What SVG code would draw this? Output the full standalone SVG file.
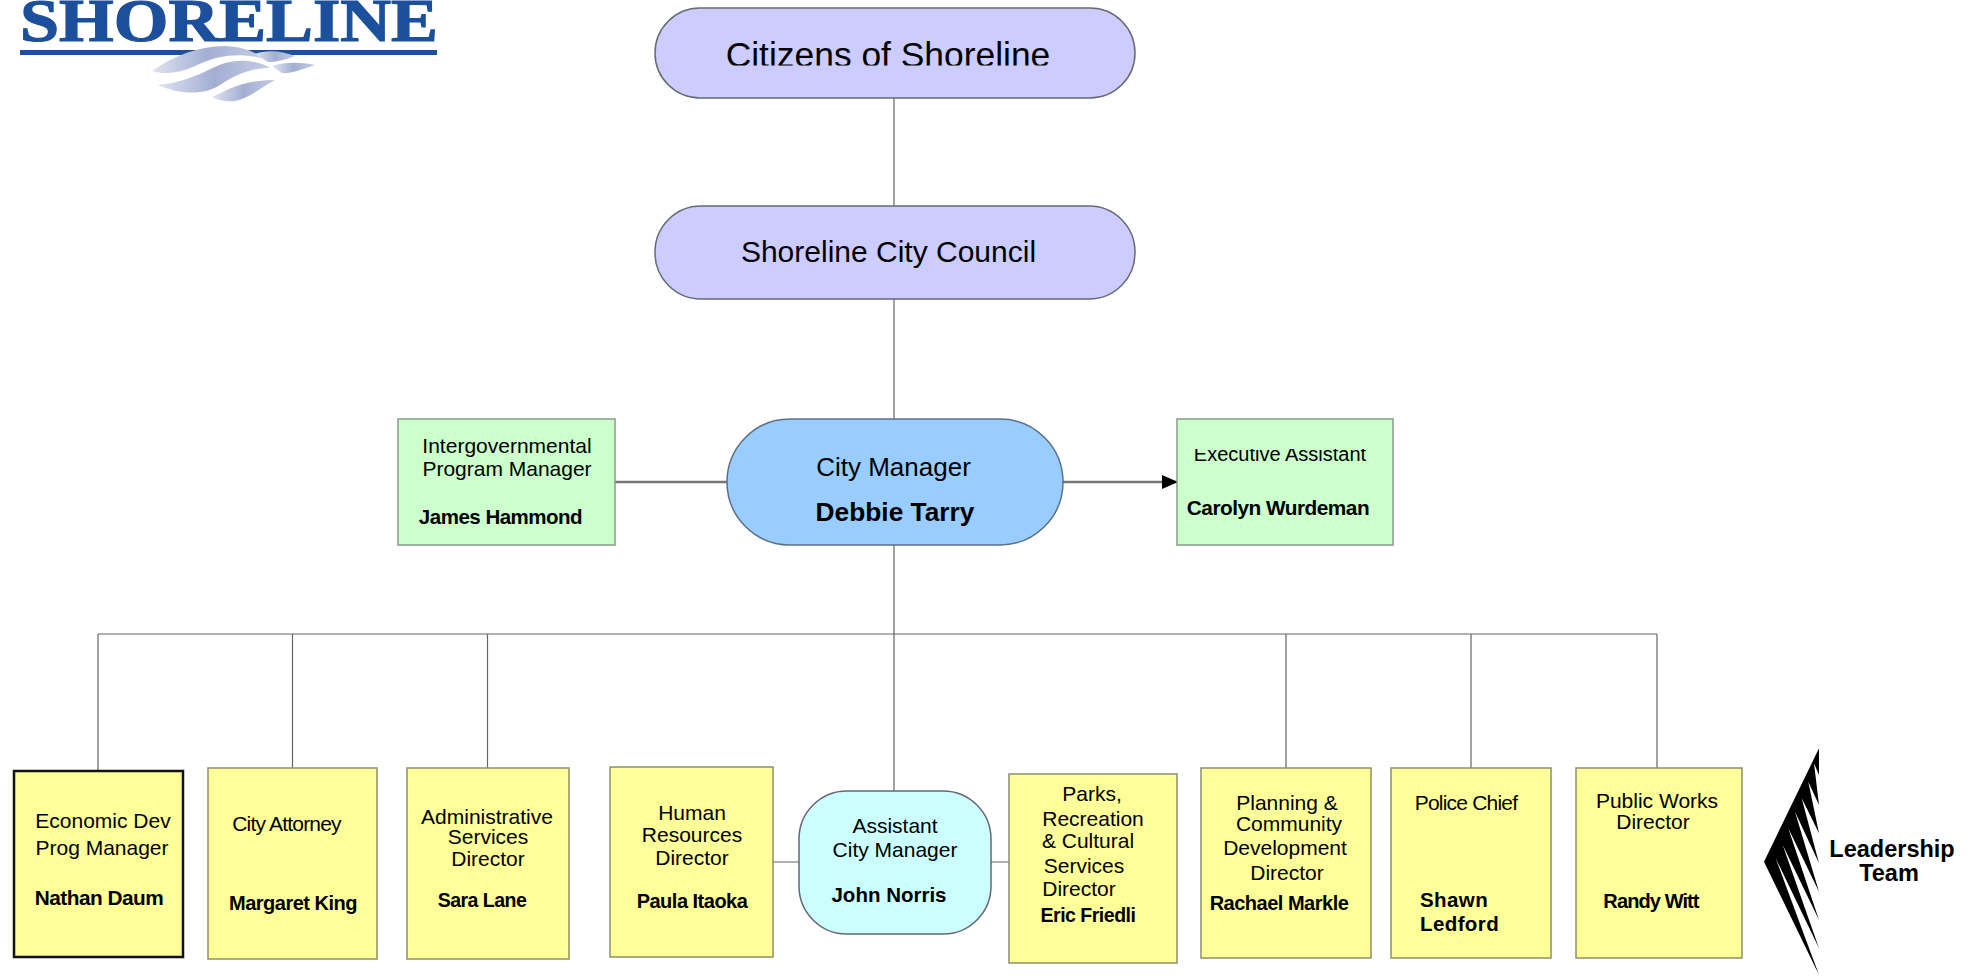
<svg xmlns="http://www.w3.org/2000/svg" width="1974" height="976" viewBox="0 0 1974 976">
<style>
text{font-family:"Liberation Sans",Arial,sans-serif;fill:#000;text-anchor:middle}
.t{font-size:21px}
.n{font-size:20px;font-weight:bold;letter-spacing:-.5px}
.pill{fill:#ccccff;stroke:#666a72;stroke-width:1.5}
.green{fill:#ccffcc;stroke:#8a9a8a;stroke-width:1.5}
.yellow{fill:#ffff99;stroke:#8f8f6a;stroke-width:1.5}
.c{stroke:#666;stroke-width:1.2;fill:none}
.c2{stroke:#777;stroke-width:2.5;fill:none}
</style>
<defs>
<clipPath id="clipCit"><rect x="600" y="0" width="600" height="65.5"/></clipPath>
<clipPath id="clipExe"><rect x="1170" y="449" width="220" height="40"/></clipPath>
<linearGradient id="wave" x1="0" x2="1" y1="0" y2="0"><stop offset="0" stop-color="#dfe4f1"/><stop offset=".5" stop-color="#a3aed3"/><stop offset="1" stop-color="#c5cde4"/></linearGradient>
<marker id="arrow" markerWidth="16" markerHeight="14" refX="15" refY="7" orient="auto" markerUnits="userSpaceOnUse"><path d="M0 0L16 7L0 14z" fill="#000"/></marker>
</defs>
<rect width="1974" height="976" fill="#fff"/>
<g id="logo">
<text x="229" y="41" font-size="62" font-weight="bold" textLength="418" lengthAdjust="spacingAndGlyphs" style="font-family:'Liberation Serif',serif;fill:#1c4f9c;stroke:#1c4f9c;stroke-width:1.2">SHORELINE</text>
<rect x="20" y="50" width="417" height="5" fill="#1c4f9c"/>
<path d="M152 71C175 55 200 46 225 46C245 47 255 52 262 58C235 52 215 56 195 66C180 73 165 75 152 71Z" fill="url(#wave)"/>
<path d="M158 85C190 82 205 70 225 63C245 58 260 62 270 68C250 68 235 75 220 85C205 95 180 95 158 85Z" fill="url(#wave)"/>
<path d="M212 97C225 92 240 80 275 80C260 88 250 98 235 101C225 102 218 100 212 97Z" fill="url(#wave)"/>
<path d="M255 54C265 50 280 50 295 56C285 60 275 62 268 62Z" fill="url(#wave)"/>
<path d="M272 66C285 62 300 62 315 65C300 70 290 74 282 73Z" fill="url(#wave)"/>
</g>
<g id="connectors">
<path class="c" d="M894 98V207M894 299V419M894 545V791M98 634H1657M98 634V770M292.500 634V768M487.500 634V768M1286 634V768M1471 634V768M1657 634V768M773 862H799M991 862H1009"/>
<path class="c2" d="M615 482H727"/>
<path class="c2" d="M1063 482H1177" marker-end="url(#arrow)"/>
</g>
<g id="citizens"><rect class="pill" x="655" y="8" width="480" height="90" rx="45"/><text x="888" y="67" font-size="35.400" clip-path="url(#clipCit)">Citizens of Shoreline</text></g>
<g id="council"><rect class="pill" x="655" y="206" width="480" height="93" rx="46"/><text x="888.500" y="262" font-size="30">Shoreline City Council</text></g>
<g id="city-manager"><rect x="727" y="419" width="336" height="126" rx="63" fill="#99ccff" stroke="#5c6f85" stroke-width="1.5"/><text x="893.500" y="476" font-size="26">City Manager</text><text x="895" y="521" font-size="26.300" font-weight="bold">Debbie Tarry</text></g>
<g id="intergov"><rect class="green" x="398" y="419" width="217" height="126"/><text class="t" x="507" y="453">Intergovernmental</text><text class="t" x="507" y="476">Program Manager</text><text class="n" x="500.500" y="524" style="font-size:20.500px">James Hammond</text></g>
<g id="exec-assistant"><rect class="green" x="1177" y="419" width="216" height="126"/><text class="t" x="1280" y="460.500" style="font-size:20px" clip-path="url(#clipExe)">Executive Assistant</text><text class="n" x="1278" y="515" style="font-size:20.800px">Carolyn Wurdeman</text></g>
<g id="econ-dev"><rect x="14" y="771" width="169" height="186" fill="#ffff99" stroke="#111" stroke-width="2.500"/><text class="t" x="103" y="828">Economic Dev</text><text class="t" x="102" y="855">Prog Manager</text><text class="n" x="99" y="905" style="font-size:20.800px">Nathan Daum</text></g>
<g id="attorney"><rect class="yellow" x="208" y="768" width="169" height="191"/><text class="t" x="286.500" y="831" letter-spacing="-.8">City Attorney</text><text class="n" x="293" y="910">Margaret King</text></g>
<g id="admin"><rect class="yellow" x="407" y="768" width="162" height="191"/><text class="t" x="487" y="824">Administrative</text><text class="t" x="488" y="844">Services</text><text class="t" x="488" y="866">Director</text><text class="n" x="482" y="907" style="font-size:19.500px">Sara Lane</text></g>
<g id="hr"><rect class="yellow" x="610" y="767" width="163" height="190"/><text class="t" x="692" y="820">Human</text><text class="t" x="692" y="842">Resources</text><text class="t" x="692" y="865">Director</text><text class="n" x="692" y="908">Paula Itaoka</text></g>
<g id="assistant-manager"><rect x="799" y="791" width="192" height="143" rx="48" fill="#ccffff" stroke="#667" stroke-width="1.500"/><text class="t" x="895" y="833">Assistant</text><text class="t" x="895" y="857">City Manager</text><text class="n" x="889" y="902" style="font-size:20.500px;letter-spacing:0">John Norris</text></g>
<g id="parks"><rect class="yellow" x="1009" y="774" width="168" height="189"/><text class="t" x="1092" y="801">Parks,</text><text class="t" x="1093" y="826">Recreation</text><text class="t" x="1088" y="848">&amp; Cultural</text><text class="t" x="1084" y="873">Services</text><text class="t" x="1079" y="896">Director</text><text class="n" x="1088" y="922" style="font-size:19.500px">Eric Friedli</text></g>
<g id="planning"><rect class="yellow" x="1201" y="768" width="170" height="190"/><text class="t" x="1287" y="810">Planning &amp;</text><text class="t" x="1289" y="831">Community</text><text class="t" x="1285" y="855">Development</text><text class="t" x="1287" y="880">Director</text><text class="n" x="1279" y="910">Rachael Markle</text></g>
<g id="police"><rect class="yellow" x="1391" y="768" width="160" height="190"/><text class="t" x="1466" y="810" letter-spacing="-.8">Police Chief</text><text class="n" x="1420" y="907" style="text-anchor:start;letter-spacing:.4px;font-size:20.500px">Shawn</text><text class="n" x="1420" y="931" style="text-anchor:start;letter-spacing:.4px;font-size:20.500px">Ledford</text></g>
<g id="public-works"><rect class="yellow" x="1576" y="768" width="166" height="190"/><text class="t" x="1657" y="808">Public Works</text><text class="t" x="1653" y="829">Director</text><text class="n" x="1651" y="908" style="letter-spacing:-.9px">Randy Witt</text></g>
<g id="leadership">
<path d="M1819 748.300V775L1814 763.300L1819 805L1808.300 781.700L1819 833.300L1801.700 798.300L1819 863.300L1795 811.700L1819 891.700L1788.300 828.300L1819 920L1782.700 845L1819 948.300L1775.700 858.300L1819 975L1764 861.700Z" fill="#000"/>
<text x="1892" y="857" font-size="23.500" font-weight="bold">Leadership</text><text x="1889" y="881" font-size="23.500" font-weight="bold">Team</text></g>
</svg>
